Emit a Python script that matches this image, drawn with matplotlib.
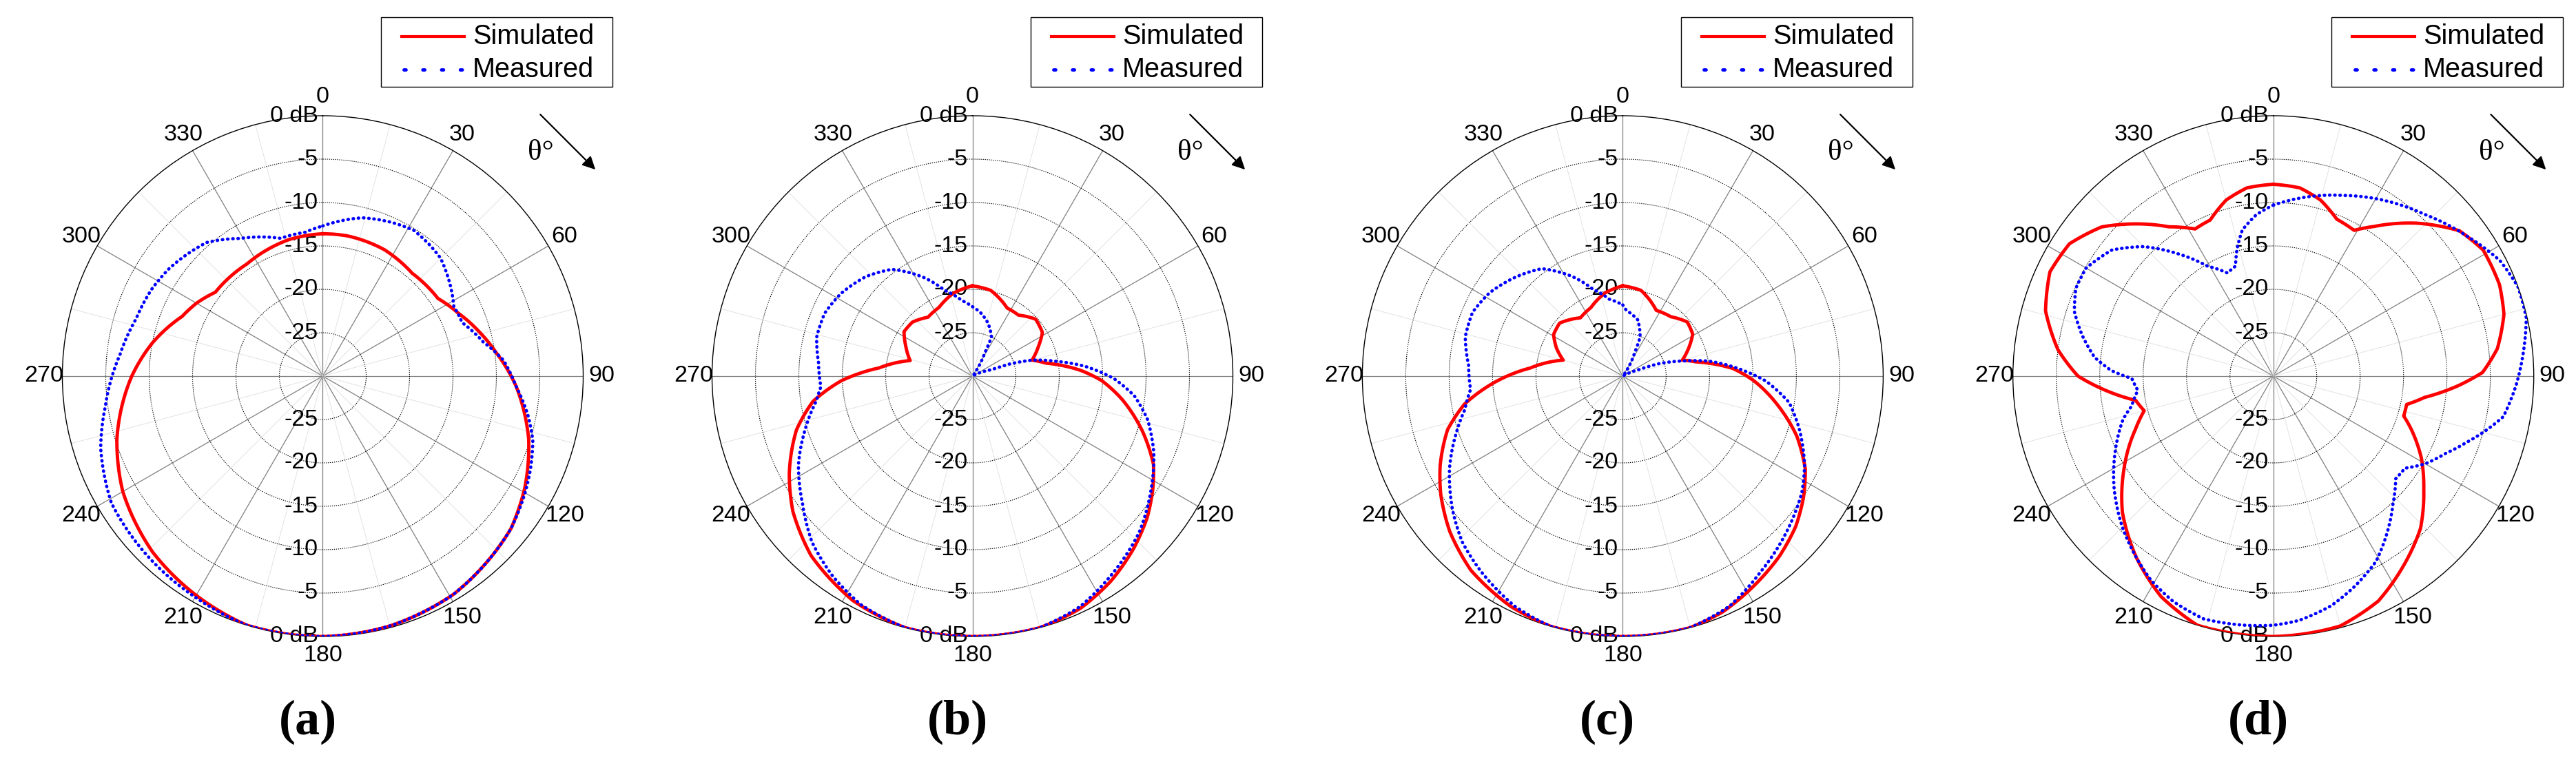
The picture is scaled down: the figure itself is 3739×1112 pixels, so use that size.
import matplotlib
matplotlib.use('Agg')
import matplotlib.pyplot as plt
from matplotlib.lines import Line2D
from matplotlib.patches import Rectangle
import numpy as np

# pattern data (theta in degrees, gain in dB)
a_sim_deg = [0, 10, 26, 41, 56, 65, 74, 82, 93, 107, 119, 129, 139, 149, 165, 180, 197, 211, 224, 240, 253, 270, 281, 293, 300, 308, 326, 346, 360]
a_sim_db = [-13.6, -13.6, -13.8, -14.3, -14.0, -12.8, -11.3, -9.9, -7.7, -5.2, -3.4, -2.1, -1.4, -0.7, -0.2, 0, 0, -0.9, -1.8, -3.4, -5.2, -8.0, -10.0, -12.4, -13.2, -14.3, -14.4, -13.8, -13.6]
a_meas_deg = [0, 14, 24, 32, 39, 45, 54, 62, 69, 78, 85, 93, 101, 107, 114, 120, 129, 139, 149, 165, 180, 197, 210, 225, 239, 252, 262, 276, 287, 297, 305, 319, 329, 343, 353, 360]
a_meas_db = [-12.7, -11.2, -10.6, -10.2, -10.5, -10.8, -11.9, -12.9, -12.8, -11.1, -9.1, -7.7, -5.9, -4.7, -3.8, -3.1, -2.1, -1.4, -0.7, -0.2, 0, 0, -0.6, -1.1, -1.6, -3.1, -4.7, -6.5, -7.5, -7.9, -8.4, -9.6, -11.5, -13.4, -13.3, -12.7]

b_sim_deg = [0, 12, 27, 37, 48, 58, 66, 75, 80, 87, 92, 99, 108, 116, 122, 129, 137, 146, 155, 165, 180, 195, 208, 222, 233, 242, 253, 261, 268, 275, 284, 294, 303, 312, 323, 334, 347, 360]
b_sim_db = [-19.6, -19.9, -21.2, -21.2, -20.2, -20.5, -21.7, -22.9, -21.4, -17.5, -15.1, -12.5, -9.4, -6.8, -5.5, -4.1, -2.8, -1.5, -0.5, 0, 0, 0, -0.7, -2.2, -4.1, -6.1, -8.8, -11.4, -14.9, -19.2, -22.6, -21.6, -20.6, -20.7, -21.5, -21.2, -20.2, -19.6]
b_meas_deg = [0, 7, 16, 26, 28, 35, 45, 60, 68, 71, 72, 75, 80, 85, 91, 97, 104, 113, 122, 133, 144, 155, 165, 180, 195, 206, 215, 224, 233, 243, 252, 261, 266, 275, 284, 293, 302, 313, 323, 334, 342, 352, 360]
b_meas_db = [-22.0, -22.6, -23.6, -25.0, -27.0, -29.5, -30, -30, -28.5, -27.8, -25.4, -22.9, -20.2, -17.0, -13.7, -11.2, -9.2, -7.3, -5.7, -3.7, -2.2, -0.7, 0, 0, 0, -0.7, -1.9, -3.4, -5.5, -7.5, -9.7, -11.8, -12.5, -12.2, -11.5, -11.5, -12.1, -13.2, -14.6, -17.4, -19.6, -21.2, -22.0]

c_sim_deg = [0, 12, 27, 39, 50, 59, 68, 75, 79, 86, 92, 101, 109, 117, 124, 131, 139, 148, 157, 165, 180, 196, 206, 218, 228, 237, 244, 253, 260, 267, 275, 285, 293, 301, 310, 324, 335, 348, 360]
c_sim_db = [-19.6, -19.9, -21.5, -21.2, -20.3, -20.6, -21.9, -22.9, -21.4, -17.3, -14.9, -11.7, -8.8, -6.4, -4.9, -3.6, -2.5, -1.5, -0.5, 0, 0, 0, -0.5, -1.6, -3.2, -5.0, -6.6, -8.9, -11.5, -15.1, -19.3, -22.9, -21.7, -20.7, -20.5, -21.7, -21.3, -20.2, -19.6]
c_meas_deg = [0, 3, 15, 24, 27, 35, 45, 60, 68, 71, 76, 80, 86, 92, 99, 107, 116, 123, 134, 145, 155, 165, 180, 196, 205, 216, 224, 232, 242, 251, 258, 265, 274, 284, 293, 302, 312, 323, 333, 341, 350, 360]
c_meas_db = [-21.8, -22.4, -23.3, -25.1, -27.0, -29.5, -30, -30, -28.1, -25.6, -22.8, -20.0, -16.8, -13.5, -10.6, -8.7, -6.7, -5.4, -3.9, -2.4, -0.8, 0, 0, 0, -0.7, -2.2, -3.4, -5.1, -7.4, -9.7, -11.4, -12.4, -12.2, -11.3, -11.2, -11.9, -13.1, -14.5, -17.1, -19.4, -21.0, -21.8]

d_sim_deg = [0, 8, 15, 22, 29, 34, 43, 52, 59, 68, 75, 83, 89, 93, 98, 102, 107, 111, 119, 127, 136, 146, 155, 165, 180, 197, 207, 217, 228, 238, 249, 255, 260, 265, 270, 277, 286, 295, 303, 311, 318, 325, 332, 338, 345, 352, 360]
d_sim_db = [-7.9, -8.1, -9.0, -10.5, -10.8, -9.2, -5.9, -2.8, -1.8, -1.9, -2.5, -4.0, -5.9, -8.7, -12.4, -14.3, -14.3, -13.0, -10.5, -8.3, -5.6, -3.4, -1.4, -0.2, 0, 0, -1.5, -3.8, -6.6, -9.7, -13.0, -14.6, -13.9, -10.7, -7.5, -5.0, -2.7, -1.6, -2.0, -3.8, -6.4, -9.0, -10.8, -10.6, -9.0, -8.1, -7.9]
d_meas_deg = [0, 5, 13, 21, 32, 43, 54, 63, 70, 77, 84, 92, 100, 104, 109, 114, 120, 125, 130, 137, 144, 151, 159, 166, 174, 180, 187, 196, 204, 211, 217, 225, 235, 244, 254, 258, 264, 269, 272, 276, 282, 288, 294, 300, 308, 315, 322, 329, 336, 341, 344, 348, 354, 360]
d_meas_db = [-10.3, -9.7, -8.7, -7.7, -6.1, -4.5, -2.5, -0.7, 0, -0.1, -1.0, -2.0, -3.1, -4.6, -6.5, -8.2, -9.8, -11.5, -11.6, -9.8, -7.7, -5.6, -4.0, -2.7, -1.7, -1.3, -1.1, -0.9, -1.6, -2.6, -3.8, -5.4, -7.6, -9.7, -12.0, -13.3, -14.3, -13.7, -11.3, -9.3, -7.5, -5.9, -5.1, -5.1, -6.4, -8.9, -12.1, -15.2, -17.0, -16.6, -14.8, -12.8, -11.3, -10.3]

panels = [
    ('(a)', a_sim_deg, a_sim_db, a_meas_deg, a_meas_db),
    ('(b)', b_sim_deg, b_sim_db, b_meas_deg, b_meas_db),
    ('(c)', c_sim_deg, c_sim_db, c_meas_deg, c_meas_db),
    ('(d)', d_sim_deg, d_sim_db, d_meas_deg, d_meas_db),
]

theta_ticks = list(range(0, 360, 30))
r_ticks = [0, -5, -10, -15, -20, -25]
r_min = -30
series_names = ['Simulated', 'Measured']

W, H = 3739, 1112
centers_x = [468.5, 1411.5, 2355.4, 3299.7]
center_y = 546
R = 378

sans = ['Liberation Sans', 'DejaVu Sans']
serif = ['Liberation Serif', 'DejaVu Serif']
meas_dots = (0, (0.15, 1.45))

fig = plt.figure(figsize=(W / 100, H / 100), dpi=100)

for (cap, sd, sv, md, mv), cx in zip(panels, centers_x):
    ax = fig.add_axes([(cx - R) / W, (H - center_y - R) / H, 2 * R / W, 2 * R / H],
                      projection='polar')
    ax.set_theta_zero_location('N')
    ax.set_theta_direction(-1)
    ax.set_rlim(r_min, 0)
    ax.grid(False)
    ax.set_xticks([])
    ax.set_yticks([])
    ax.spines['polar'].set_color('black')
    ax.spines['polar'].set_linewidth(1.0)

    # spokes: dark every 30 deg, faint every 15
    for t in range(0, 360, 15):
        if t % 30 == 0:
            ax.plot([np.deg2rad(t)] * 2, [r_min, 0], color='#7f7f7f', lw=0.9, zorder=1)
        else:
            ax.plot([np.deg2rad(t)] * 2, [r_min, 0], color='#e2e2e2', lw=0.7, zorder=1)
    ring = np.linspace(0, 2 * np.pi, 400)
    for r in r_ticks[1:]:
        ax.plot(ring, np.full_like(ring, r), color='black', lw=0.8,
                linestyle=(0, (1.2, 1.5)), zorder=1)

    # angle labels
    for t in theta_ticks:
        ax.text(np.deg2rad(t), 2.15, str(t), ha='center', va='center',
                fontsize=24.5, family=sans, clip_on=False)
    # radial labels on top and bottom spokes
    for r in r_ticks:
        lab = '0 dB' if r == 0 else str(r)
        for th in (0, np.pi):
            ax.annotate(lab, xy=(th, r), xytext=(-5, 0), textcoords='offset points',
                        ha='right', va='center', fontsize=24.5, family=sans,
                        annotation_clip=False, zorder=3)

    sim_line, = ax.plot(np.deg2rad(sd), np.clip(sv, r_min, 0), color='red', lw=3.5,
                        solid_joinstyle='round', zorder=5)
    meas_line, = ax.plot(np.deg2rad(md), np.clip(mv, r_min, 0), color='blue', lw=3.4,
                         linestyle=meas_dots, dash_capstyle='round', zorder=6)
    # follow the polar grid between samples instead of straight chords
    for ln in (sim_line, meas_line):
        ln.get_path()._interpolation_steps = 24

    # legend box drawn in axes fraction
    ax.add_patch(Rectangle((0.6118, 1.0556), 0.4445, 0.1338, transform=ax.transAxes,
                           facecolor='white', edgecolor='black', lw=1.0, clip_on=False,
                           zorder=7))
    ax.add_line(Line2D([0.6514, 0.7718], [1.1521, 1.1521], transform=ax.transAxes,
                       color='red', lw=3.0, clip_on=False, zorder=8))
    ax.add_line(Line2D([0.6560, 0.7718], [1.0881, 1.0881], transform=ax.transAxes,
                       color='blue', lw=3.5, linestyle=(0, (0.6, 5.0)),
                       dash_capstyle='round', clip_on=False, zorder=8))
    for name, yy in zip(series_names, [1.1521, 1.0881]):
        ax.text(0.7877, yy, name, transform=ax.transAxes, ha='left', va='center',
                fontsize=28.5, family=sans, zorder=8)

    # theta direction marker
    ax.annotate('', xy=(1.026, 0.894), xytext=(0.915, 1.005), xycoords='axes fraction',
                arrowprops=dict(arrowstyle='-|>', color='black', lw=1.6, mutation_scale=28))
    ax.text(0.919, 0.929, '\u03b8\u00b0', transform=ax.transAxes, ha='center', va='center',
            fontsize=31, family=serif)

    fig.text((cx - 22) / W, 1 - 1048 / H, cap, ha='center', va='center',
             fontsize=52, fontweight='bold', family=serif)

fig.savefig('out.png', dpi=100)
